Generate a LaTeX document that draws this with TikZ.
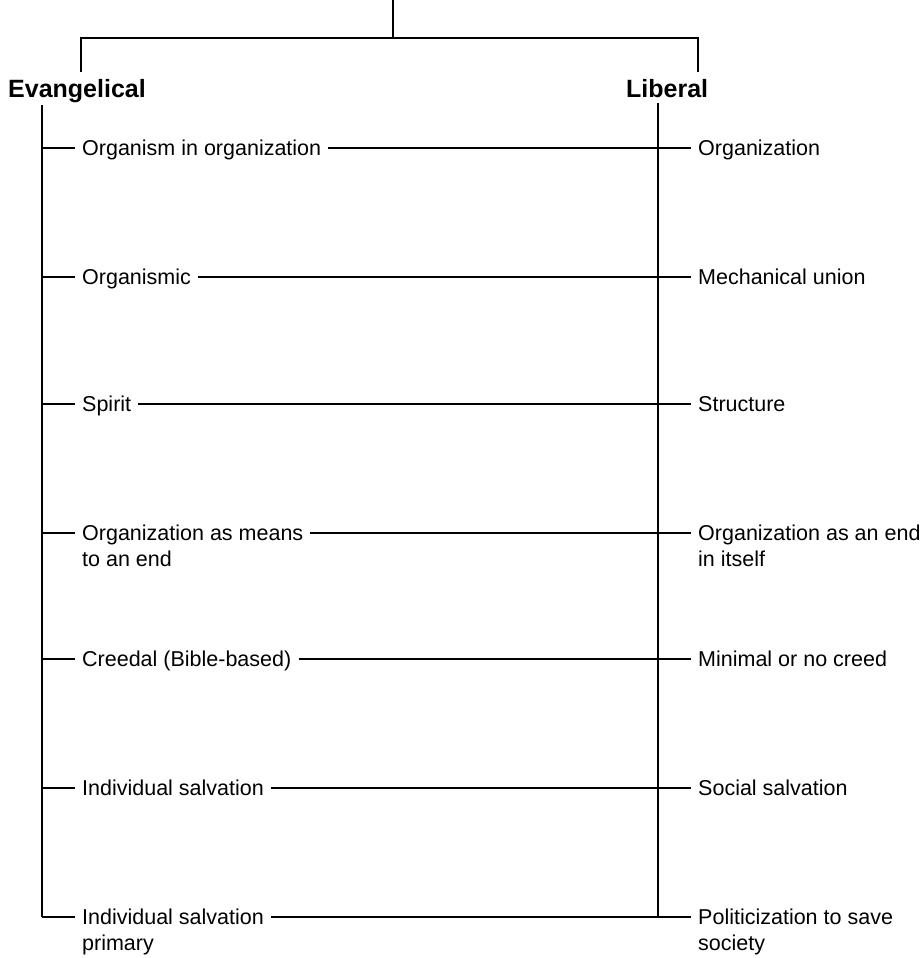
\documentclass[tikz,border=0pt]{standalone}
\usepackage{fontspec}
\setmainfont{Liberation Sans}
\usetikzlibrary{positioning}

\tikzset{
  head/.style={font=\fontsize{25}{30}\selectfont\bfseries, inner sep=0pt, anchor=base west},
  item/.style={font=\fontsize{21.5}{26}\selectfont, align=left, anchor=base west, inner xsep=7pt, inner ysep=0pt},
  stem/.style={line width=2.4pt},
  rung/.style={line width=1.6pt},
}

\begin{document}
\begin{tikzpicture}[x=1pt,y=-1pt]
        \useasboundingbox (0,0) rectangle (922,958);
        % headings and the bracket above them
        \node[head] (evan) at (8,97) {Evangelical};
        \node[head] (lib) at (626,97) {Liberal};
        \coordinate (top) at (393,0);
        \coordinate (fork) at (393,38);
        \coordinate (evdrop) at (81,72);
        \coordinate (libdrop) at (698,72);
        \draw[stem] (top) -- (fork);
        \draw[stem] (evdrop) -- (evdrop |- fork) -- (libdrop |- fork) -- (libdrop);
        % the two spines
        \coordinate (evspine) at (42,105);
        \coordinate (libspine) at (658,103);
        \coordinate (r1) at (42,148);
        \coordinate (r2) at (42,277);
        \coordinate (r3) at (42,404);
        \coordinate (r4) at (42,533);
        \coordinate (r5) at (42,659);
        \coordinate (r6) at (42,788);
        \coordinate (r7) at (42,917);
        \draw[stem] (evspine) -- (r7);
        \draw[stem] (libspine) -- (libspine |- r7);
        % rows (two-line labels sit on their last line)
        \node[item] (e1) at (75,155) {Organism in organization};
        \node[item] (l1) at (691,155) {Organization};
        \node[item] (e2) at (75,284) {Organismic};
        \node[item] (l2) at (691,284) {Mechanical union};
        \node[item] (e3) at (75,411) {Spirit};
        \node[item] (l3) at (691,411) {Structure};
        \node[item] (e4) at (75,566) {Organization as means\\to an end};
        \node[item] (l4) at (691,566) {Organization as an end\\in itself};
        \node[item] (e5) at (75,666) {Creedal (Bible-based)};
        \node[item] (l5) at (691,666) {Minimal or no creed};
        \node[item] (e6) at (75,795) {Individual salvation};
        \node[item] (l6) at (691,795) {Social salvation};
        \node[item] (e7) at (75,950) {Individual salvation\\primary};
        \node[item] (l7) at (691,950) {Politicization to save\\society};
        \draw[rung] (r1) -- (e1.west |- r1);
        \draw[rung] (e1.east |- r1) -- (l1.west |- r1);
        \draw[rung] (r2) -- (e2.west |- r2);
        \draw[rung] (e2.east |- r2) -- (l2.west |- r2);
        \draw[rung] (r3) -- (e3.west |- r3);
        \draw[rung] (e3.east |- r3) -- (l3.west |- r3);
        \draw[rung] (r4) -- (e4.west |- r4);
        \draw[rung] (e4.east |- r4) -- (l4.west |- r4);
        \draw[rung] (r5) -- (e5.west |- r5);
        \draw[rung] (e5.east |- r5) -- (l5.west |- r5);
        \draw[rung] (r6) -- (e6.west |- r6);
        \draw[rung] (e6.east |- r6) -- (l6.west |- r6);
        \draw[rung] (r7) -- (e7.west |- r7);
        \draw[rung] (e7.east |- r7) -- (l7.west |- r7);
\end{tikzpicture}
\end{document}
